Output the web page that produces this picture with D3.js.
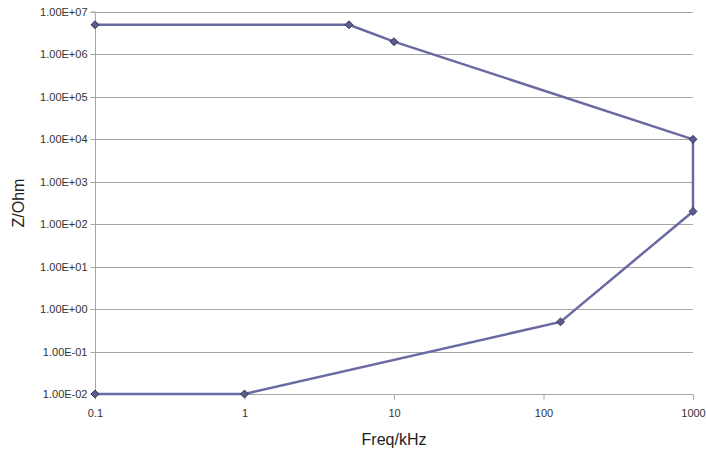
<!DOCTYPE html>
<html><head><meta charset="utf-8">
<script src="https://cdn.jsdelivr.net/npm/d3@7"></script>
<style>body{margin:0;background:#fff}svg{display:block}</style>
</head><body>
<svg id="c" width="706" height="453"></svg>
<script>
const freq = [0.1, 1, 130, 1000, 1000, 10, 5, 0.1];
const impedance = [0.01, 0.01, 0.5, 200, 10000, 2000000, 5000000, 5000000];
const xTicks = [0.1, 1, 10, 100, 1000];
const xTickLabels = ["0.1", "1", "10", "100", "1000"];
const yTicks = [1e-2, 1e-1, 1e0, 1e1, 1e2, 1e3, 1e4, 1e5, 1e6, 1e7];
const yTickLabels = ["1.00E-02","1.00E-01","1.00E+00","1.00E+01","1.00E+02","1.00E+03","1.00E+04","1.00E+05","1.00E+06","1.00E+07"];

const svg = d3.select("#c");
const L = 95, R = 693, T = 12, B = 394;
const x = d3.scaleLog().domain([0.1, 1000]).range([L, R]);
const y = d3.scaleLog().domain([1e-2, 1e7]).range([B, T]);
const font = "'Liberation Sans', Arial, sans-serif";
const grid = "#a6a6a6";

// horizontal gridlines
svg.append("g").selectAll("line").data(yTicks).join("line")
  .attr("x1", L).attr("x2", R)
  .attr("y1", d => Math.round(y(d)) + 0.5).attr("y2", d => Math.round(y(d)) + 0.5)
  .attr("stroke", grid).attr("stroke-width", 1);

// y axis
const yAxis = d3.axisLeft(y).tickValues(yTicks)
  .tickFormat((d, i) => yTickLabels[i]).tickSize(5).tickPadding(3);
const gy = svg.append("g").attr("transform", `translate(${L + 0.5},0)`).call(yAxis);
gy.select(".domain").attr("stroke", grid).attr("d", `M-5,${Math.round(T)}H0V${Math.round(B)}`);
gy.selectAll(".tick line").attr("stroke", grid);
gy.selectAll(".tick").attr("transform", d => `translate(0,${Math.round(y(d)) + 0.5})`);
gy.selectAll(".tick text").attr("font-family", font).attr("font-size", 11).attr("fill", "#333").attr("dy", "0.35em");

// x axis
const xAxis = d3.axisBottom(x).tickValues(xTicks)
  .tickFormat((d, i) => xTickLabels[i]).tickSize(5).tickPadding(10);
const gx = svg.append("g").attr("transform", `translate(0,${Math.round(B) + 0.5})`).call(xAxis);
gx.select(".domain").attr("stroke", grid).attr("d", `M${L},0H${R}`);
gx.selectAll(".tick line").attr("stroke", grid);
gx.selectAll(".tick text").attr("font-family", font).attr("font-size", 11).attr("fill", "#333");

// line
const pts = freq.map((f, i) => [f, impedance[i]]);
svg.append("path").datum(pts)
  .attr("fill", "none").attr("stroke", "#6a6aa3").attr("stroke-width", 2.5)
  .attr("stroke-linejoin", "round")
  .attr("d", d3.line().x(d => x(d[0])).y(d => y(d[1])));

// markers
svg.append("g").selectAll("path").data(pts).join("path")
  .attr("transform", d => `translate(${x(d[0])},${y(d[1])})`)
  .attr("d", d3.symbol(d3.symbolDiamond2, 40))
  .attr("fill", "#5c5c8f").attr("stroke", "#333355").attr("stroke-width", 1);

// axis titles
svg.append("text").attr("x", 394).attr("y", 445).attr("text-anchor", "middle")
  .attr("font-family", font).attr("font-size", 16).attr("fill", "#222").text("Freq/kHz");
svg.append("text").attr("transform", "translate(24,203) rotate(-90)").attr("text-anchor", "middle")
  .attr("font-family", font).attr("font-size", 16).attr("fill", "#222").text("Z/Ohm");
</script>
</body></html>
